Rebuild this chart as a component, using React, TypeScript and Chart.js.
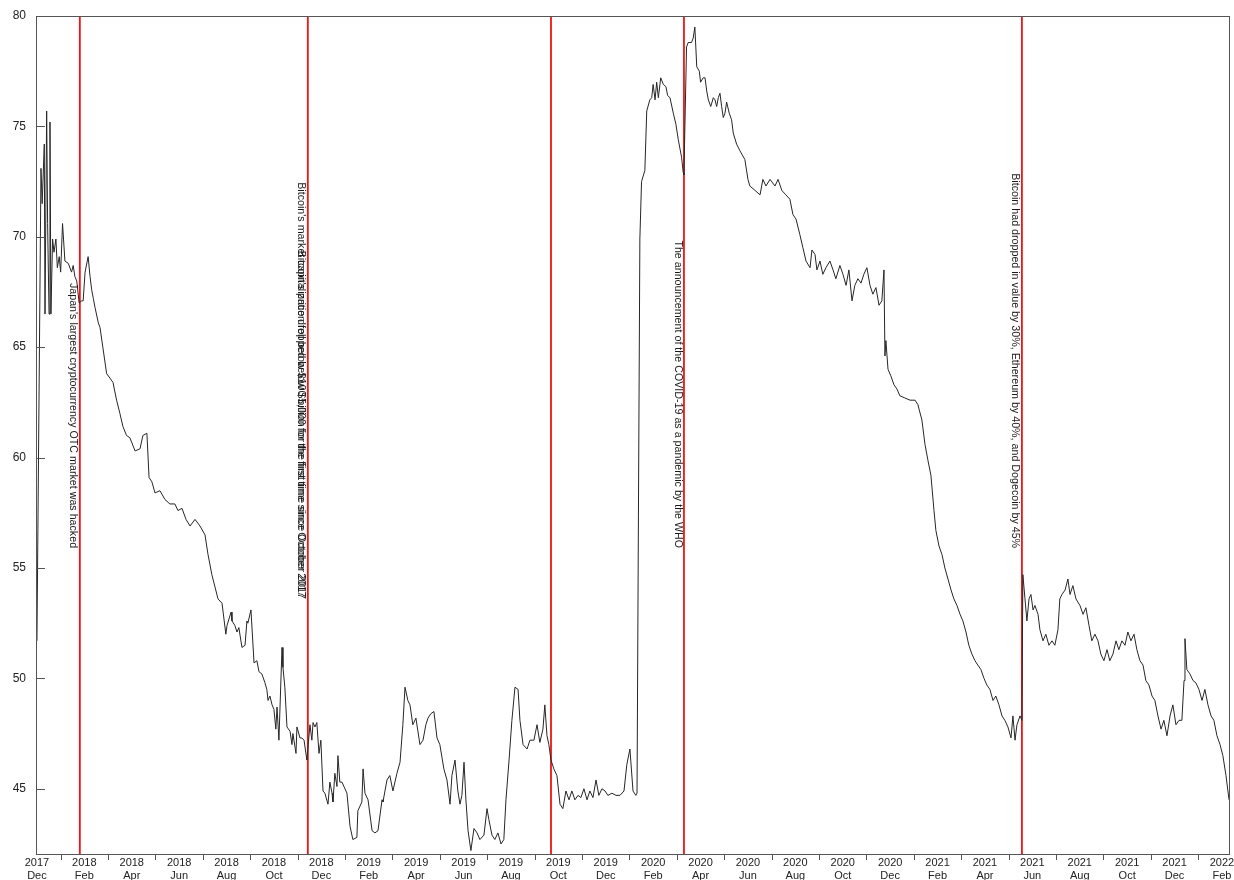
import React, { useEffect, useRef } from 'react';
import { Chart, registerables } from 'chart.js';

Chart.register(...registerables);

// x positions are months counted from the start of December 2017
const early2018: [number, number][] = [
  [0.00, 51.7], [0.17, 73.1], [0.22, 71.5], [0.31, 74.2], [0.34, 66.5], [0.41, 75.7], [0.45, 70.6], [0.51, 66.5],
  [0.55, 75.2], [0.59, 66.5], [0.66, 69.9], [0.72, 69.3], [0.80, 69.9], [0.86, 68.6], [0.94, 69.1], [1.00, 68.4],
  [1.08, 70.6], [1.18, 68.9], [1.32, 68.8], [1.46, 68.4], [1.53, 68.7], [1.60, 68.2], [1.68, 68.0], [1.78, 67.0],
  [1.89, 67.1], [1.95, 67.1], [2.03, 68.4], [2.16, 69.1], [2.24, 68.2], [2.31, 67.6], [2.38, 67.2], [2.45, 66.8],
  [2.59, 66.1], [2.66, 65.9], [2.78, 65.0], [2.94, 63.8], [3.08, 63.6], [3.21, 63.4], [3.36, 62.6], [3.50, 62.0],
  [3.63, 61.4], [3.78, 61.0], [3.92, 60.9], [4.14, 60.3], [4.35, 60.4], [4.47, 61.0], [4.64, 61.1], [4.73, 59.1],
  [4.85, 58.9], [4.98, 58.4], [5.19, 58.5], [5.40, 58.1], [5.61, 57.9], [5.82, 57.9], [5.95, 57.6], [6.12, 57.7],
  [6.29, 57.2], [6.46, 56.9], [6.67, 57.2], [6.88, 56.9], [7.09, 56.5], [7.22, 55.6], [7.38, 54.7], [7.64, 53.6],
  [7.81, 53.4], [7.97, 52.0], [8.02, 52.4], [8.19, 53.0], [8.23, 52.6], [8.35, 52.4], [8.44, 52.1], [8.52, 52.3],
  [8.65, 51.4], [8.78, 51.5], [8.86, 52.6], [8.90, 52.5], [9.03, 53.1], [9.16, 50.7], [9.28, 50.8], [9.37, 50.3],
  [9.49, 50.2], [9.62, 49.8], [9.70, 49.5], [9.75, 49.0], [9.83, 49.2], [9.92, 48.8], [10.00, 48.6], [10.08, 47.7],
  [10.13, 48.7], [10.21, 47.2], [10.34, 51.4], [10.38, 50.5], [10.46, 49.6], [10.55, 47.8], [10.68, 47.6], [10.76, 47.0],
  [10.80, 47.5], [10.93, 46.6], [10.97, 47.8], [11.10, 47.3], [11.18, 47.3], [11.27, 47.2], [11.39, 46.3], [11.43, 46.8],
];

const late2018to2019: [number, number][] = [
  [11.52, 47.9], [11.60, 47.2], [11.65, 48.0], [11.73, 47.8], [11.81, 48.0], [11.90, 46.6], [11.98, 47.2], [12.07, 44.9],
  [12.15, 44.8], [12.28, 44.3], [12.36, 45.3], [12.45, 44.8], [12.49, 44.4], [12.57, 45.7], [12.66, 45.1], [12.70, 46.5],
  [12.78, 45.3], [12.87, 45.3], [13.08, 44.8], [13.21, 43.3], [13.33, 42.7], [13.50, 42.8], [13.54, 44.0], [13.71, 44.4],
  [13.76, 45.9], [13.84, 44.8], [13.97, 44.5], [14.14, 43.1], [14.26, 43.0], [14.39, 43.1], [14.56, 44.5], [14.60, 44.4],
  [14.77, 45.4], [14.89, 45.6], [15.02, 44.9], [15.19, 45.7], [15.32, 46.2], [15.44, 47.9], [15.53, 49.6], [15.65, 49.0],
  [15.74, 48.8], [15.86, 47.9], [15.99, 48.2], [16.16, 47.0], [16.29, 47.2], [16.41, 47.9], [16.50, 48.2], [16.62, 48.4],
  [16.75, 48.5], [16.88, 47.3], [17.00, 47.0], [17.17, 45.9], [17.30, 45.4], [17.43, 44.3], [17.51, 45.6], [17.64, 46.3],
  [17.76, 44.9], [17.85, 44.3], [17.93, 44.7], [18.02, 46.2], [18.10, 44.5], [18.19, 43.1], [18.31, 42.2], [18.44, 43.2],
  [18.57, 43.0], [18.69, 42.7], [18.86, 42.9], [18.99, 44.1], [19.07, 43.6], [19.20, 42.9], [19.32, 42.7], [19.45, 43.0],
  [19.58, 42.5], [19.70, 42.7], [19.79, 44.5], [19.92, 46.3], [20.04, 48.1], [20.17, 49.6], [20.30, 49.5], [20.38, 48.1],
  [20.51, 47.0], [20.68, 46.8], [20.80, 47.2], [20.97, 47.2], [21.10, 47.9], [21.22, 47.1], [21.35, 47.7], [21.43, 48.8],
  [21.52, 47.4], [21.60, 47.0], [21.69, 46.3],
];

const late2019to2020: [number, number][] = [
  [21.81, 45.9], [21.94, 45.6], [22.07, 44.3], [22.19, 44.1], [22.32, 44.9], [22.45, 44.5], [22.57, 44.9], [22.70, 44.5],
  [22.83, 44.7], [22.95, 44.6], [23.08, 45.0], [23.21, 44.5], [23.33, 44.9], [23.46, 44.6], [23.59, 45.4], [23.71, 44.7],
  [23.84, 45.0], [23.97, 44.9], [24.09, 44.7], [24.26, 44.8], [24.43, 44.7], [24.60, 44.7], [24.77, 44.9], [24.89, 46.1],
  [25.02, 46.8], [25.15, 44.9], [25.27, 44.7], [25.32, 44.8], [25.44, 69.9], [25.51, 72.5], [25.65, 73.0], [25.73, 75.7],
  [25.86, 76.2], [25.94, 76.3], [26.00, 76.9], [26.08, 76.2], [26.15, 77.0], [26.22, 76.3], [26.32, 77.2], [26.43, 76.9],
  [26.54, 76.8], [26.61, 76.4], [26.71, 76.3], [26.85, 75.6], [26.96, 75.1], [27.06, 74.4], [27.20, 73.6], [27.27, 72.9],
  [27.30, 72.8],
];

const covid2020: [number, number][] = [
  [27.34, 75.0], [27.41, 78.6], [27.48, 78.8], [27.62, 78.8], [27.69, 79.0], [27.76, 79.5], [27.84, 77.7], [27.95, 77.5],
  [28.00, 77.0], [28.11, 77.2], [28.19, 77.2], [28.26, 76.6], [28.33, 76.2], [28.43, 75.9], [28.54, 76.3], [28.61, 76.2],
  [28.68, 75.9], [28.75, 76.3], [28.82, 76.5], [28.89, 75.9], [28.96, 75.4], [29.03, 75.6], [29.10, 76.1], [29.21, 75.6],
  [29.31, 75.3], [29.38, 74.7], [29.52, 74.2], [29.66, 73.9], [29.87, 73.5], [30.00, 72.6], [30.08, 72.3], [30.30, 72.1],
  [30.51, 71.9], [30.63, 72.6], [30.76, 72.3], [30.93, 72.6], [31.14, 72.3], [31.27, 72.6], [31.43, 72.1], [31.60, 71.9],
  [31.77, 71.7], [31.90, 71.0], [32.03, 70.8], [32.19, 70.1], [32.32, 69.5], [32.45, 68.9], [32.62, 68.6], [32.70, 69.4],
  [32.83, 69.2], [32.91, 68.5], [33.04, 68.9], [33.16, 68.3], [33.29, 68.6], [33.46, 68.9], [33.59, 68.5], [33.71, 68.1],
  [33.88, 68.7], [34.01, 68.3], [34.14, 67.8], [34.26, 68.5], [34.39, 67.1], [34.51, 67.8], [34.64, 68.1], [34.77, 67.9],
  [34.89, 68.3], [35.02, 68.6], [35.15, 67.8], [35.27, 67.4], [35.40, 67.7], [35.53, 66.9], [35.65, 67.1], [35.74, 68.5],
];

const year2021: [number, number][] = [
  [35.78, 64.6], [35.82, 65.3], [35.91, 64.0], [36.03, 63.7], [36.16, 63.3], [36.29, 63.1], [36.41, 62.8], [36.62, 62.7],
  [36.84, 62.6], [37.05, 62.6], [37.17, 62.4], [37.34, 61.7], [37.47, 60.6], [37.59, 59.9], [37.72, 59.2], [37.85, 57.6],
  [37.93, 56.7], [38.06, 56.0], [38.19, 55.6], [38.31, 55.0], [38.44, 54.5], [38.57, 54.0], [38.69, 53.6], [38.82, 53.3],
  [38.95, 52.9], [39.07, 52.6], [39.20, 52.1], [39.32, 51.5], [39.45, 51.1], [39.58, 50.8], [39.70, 50.6], [39.83, 50.4],
  [39.96, 50.0], [40.08, 49.7], [40.21, 49.5], [40.34, 49.0], [40.46, 49.2], [40.59, 48.8], [40.72, 48.3], [40.84, 48.1],
  [40.97, 47.8], [41.10, 47.3], [41.18, 48.3], [41.27, 47.2], [41.35, 47.9], [41.48, 48.3], [41.56, 48.1],
];

const late2021to2022: [number, number][] = [
  [41.60, 54.7], [41.69, 53.6], [41.77, 52.6], [41.86, 53.6], [41.94, 53.8], [42.03, 53.1], [42.11, 53.3], [42.24, 52.9],
  [42.32, 52.2], [42.45, 51.7], [42.57, 52.0], [42.70, 51.5], [42.83, 51.7], [42.95, 51.5], [43.08, 52.2], [43.16, 53.6],
  [43.25, 53.8], [43.38, 54.0], [43.50, 54.5], [43.59, 53.8], [43.71, 54.2], [43.84, 53.6], [44.01, 53.3], [44.14, 52.9],
  [44.26, 53.2], [44.39, 52.4], [44.51, 51.7], [44.64, 52.0], [44.77, 51.7], [44.89, 51.1], [45.02, 50.8], [45.15, 51.3],
  [45.27, 50.8], [45.40, 51.1], [45.53, 51.7], [45.65, 51.3], [45.78, 51.7], [45.91, 51.5], [46.03, 52.1], [46.16, 51.7],
  [46.29, 52.0], [46.41, 51.3], [46.54, 50.8], [46.67, 50.6], [46.79, 49.9], [46.92, 49.7], [47.05, 49.2], [47.17, 49.0],
  [47.30, 48.3], [47.43, 47.7], [47.55, 48.1], [47.68, 47.4], [47.81, 48.3], [47.93, 48.8], [48.06, 47.9], [48.19, 48.1],
  [48.31, 48.1], [48.40, 49.9], [48.44, 51.8], [48.52, 50.4], [48.65, 50.2], [48.78, 49.9], [48.90, 49.8], [49.03, 49.5],
  [49.16, 49.0], [49.28, 49.5], [49.41, 48.8], [49.54, 48.3], [49.66, 48.1], [49.79, 47.4], [49.92, 47.0], [50.04, 46.5],
  [50.17, 45.6], [50.30, 44.5],
];

const tickYears = ['2017', '2018', '2018', '2018', '2018', '2018', '2018', '2019', '2019', '2019', '2019', '2019', '2019',
  '2020', '2020', '2020', '2020', '2020', '2020', '2021', '2021', '2021', '2021', '2021', '2021', '2022'];
const tickMonthNames = ['Dec', 'Feb', 'Apr', 'Jun', 'Aug', 'Oct', 'Dec', 'Feb', 'Apr', 'Jun', 'Aug', 'Oct', 'Dec',
  'Feb', 'Apr', 'Jun', 'Aug', 'Oct', 'Dec', 'Feb', 'Apr', 'Jun', 'Aug', 'Oct', 'Dec', 'Feb'];
const yTickValues = [45, 50, 55, 60, 65, 70, 75, 80];

const eventMonths = [1.81, 11.43, 21.69, 27.30, 41.56];
const noteMonths = [1.81, 11.43, 11.43, 27.30, 41.56];
const noteEndValues = [55.9, 53.6, 53.68, 55.9, 55.9];
const noteTexts = [
  "Japan's largest cryptocurrency OTC market was hacked",
  "Bitcoin's market capitalization fell below $100 billion for the first time since October 2017",
  "Bitcoin's price dropped below $5,000 for the first time since October 2017",
  'The announcement of the COVID-19 as a pandemic by the WHO',
  'Bitcoin had dropped in value by 30%, Ethereum by 40%, and Dogecoin by 45%',
];

const FONT = "'Liberation Sans', Arial, sans-serif";

const overlay = {
  id: 'overlay',
  beforeDatasetsDraw(chart: any) {
    const { ctx, chartArea: a, scales } = chart;
    ctx.save();
    ctx.strokeStyle = 'rgb(240, 20, 20)';
    ctx.lineWidth = 1.8;
    eventMonths.forEach((m) => {
      const px = scales.x.getPixelForValue(m);
      ctx.beginPath();
      ctx.moveTo(px, a.top);
      ctx.lineTo(px, a.bottom);
      ctx.stroke();
    });
    ctx.restore();
  },
  afterDraw(chart: any) {
    const { ctx, chartArea: a, scales } = chart;
    ctx.save();
    ctx.strokeStyle = '#555';
    ctx.lineWidth = 1;
    ctx.strokeRect(a.left + 0.5, a.top + 0.5, a.right - a.left - 1, a.bottom - a.top - 1);
    ctx.beginPath();
    yTickValues.forEach((v) => {
      const py = Math.round(scales.y.getPixelForValue(v)) + 0.5;
      ctx.moveTo(a.left, py);
      ctx.lineTo(a.left + 9, py);
    });
    tickYears.forEach((_, i) => {
      if (i === tickYears.length - 1) return;
      const px = Math.round(scales.x.getPixelForValue(i * 2 + 1)) + 0.5;
      ctx.moveTo(px, a.bottom);
      ctx.lineTo(px, a.bottom + 5);
    });
    ctx.stroke();
    ctx.fillStyle = '#1a1a1a';
    ctx.font = `10.7px ${FONT}`;
    ctx.textAlign = 'right';
    ctx.textBaseline = 'middle';
    noteTexts.forEach((t, i) => {
      const px = scales.x.getPixelForValue(noteMonths[i]) - 6.5;
      const py = scales.y.getPixelForValue(noteEndValues[i]);
      ctx.save();
      ctx.translate(px, py);
      ctx.rotate(Math.PI / 2);
      ctx.fillText(t, 0, 0);
      ctx.restore();
    });
    ctx.restore();
  },
};

export default function App() {
  const ref = useRef<HTMLCanvasElement | null>(null);
  useEffect(() => {
    document.body.style.margin = '0';
    const points = [...early2018, ...late2018to2019, ...late2019to2020, ...covid2020, ...year2021, ...late2021to2022]
      .map(([x, y]) => ({ x, y }));
    const chart = new Chart(ref.current as HTMLCanvasElement, {
      type: 'line',
      data: {
        datasets: [{
          data: points,
          borderColor: '#262626',
          borderWidth: 1,
          pointRadius: 0,
          tension: 0,
          fill: false,
        }],
      },
      options: {
        animation: false,
        responsive: true,
        maintainAspectRatio: false,
        layout: { padding: { top: 16, right: 4, left: 0, bottom: 0 } },
        plugins: { legend: { display: false }, tooltip: { enabled: false } },
        scales: {
          x: {
            type: 'linear',
            min: -0.04,
            max: 50.34,
            grid: { display: false, drawTicks: false },
            border: { display: false },
            afterBuildTicks: (s: any) => { s.ticks = tickYears.map((_, i) => ({ value: i * 2 })); },
            afterFit: (s: any) => { s.height = 25; s.paddingLeft = 0; s.paddingRight = 0; },
            ticks: {
              autoSkip: false,
              maxRotation: 0,
              padding: 1,
              color: '#222',
              font: { family: FONT, size: 11, lineHeight: 1.18 },
              callback: (_v: any, i: number) => [tickYears[i], tickMonthNames[i]],
            },
          },
          y: {
            min: 42,
            max: 80,
            grid: { display: false, drawTicks: false },
            border: { display: false },
            afterBuildTicks: (s: any) => { s.ticks = yTickValues.map((v) => ({ value: v })); },
            afterFit: (s: any) => { s.width = 36; s.paddingTop = 0; s.paddingBottom = 0; },
            ticks: {
              padding: 10,
              color: '#222',
              font: { family: FONT, size: 12 },
            },
          },
        },
      },
      plugins: [overlay],
    });
    return () => chart.destroy();
  }, []);
  return (
    <div style={{ width: '1234px', height: '880px', position: 'relative' }}>
      <canvas ref={ref} />
    </div>
  );
}
